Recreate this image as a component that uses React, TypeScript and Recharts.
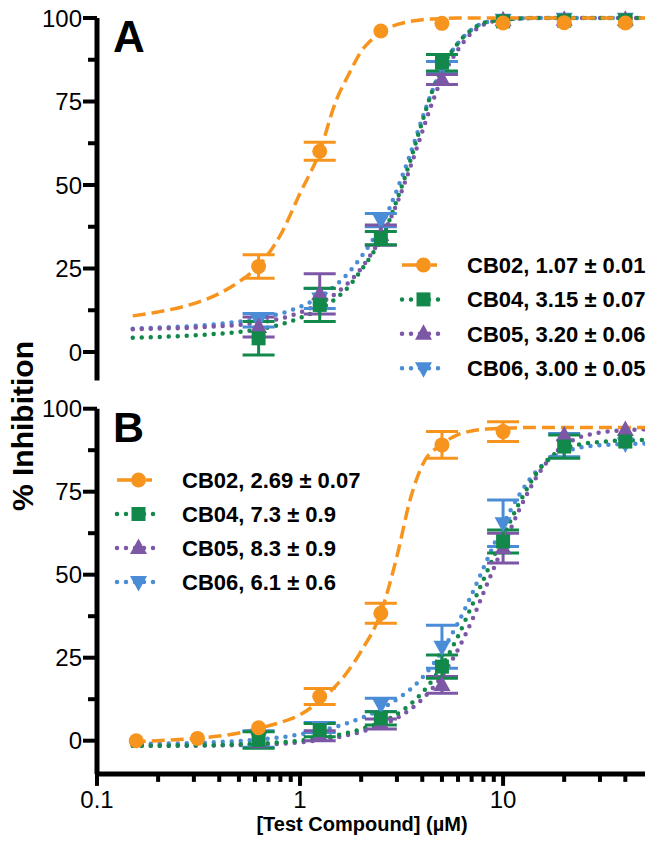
import React from 'react';
import { ComposedChart, Line, Scatter, XAxis, YAxis, ErrorBar } from 'recharts';

const ORANGE = '#F7941E';
const GREEN = '#12894A';
const PURPLE = '#7B57A6';
const BLUE = '#4A8DD6';
const FONT = '"Liberation Sans", Arial, Helvetica, sans-serif';

// ---------- Panel A data ----------
const concA = [0.625, 1.25, 2.5, 5, 10, 20, 40];
const cb02A = [25.6, 60.1, 96.1, 98.4, 98.5, 98.6, 98.5];
const cb02AErr = [3.5, 2.7, 0, 0, 0, 0, 0];
const cb04A = [4.1, 14.1, 34.1, 86.6, 99, 99.2, 99.3];
const cb04AErr = [5, 5, 2, 2.5, 0, 0, 0];
const cb05A = [7.5, 17.4, 35, 81.6, 99.3, 99.5, 99.5];
const cb05AErr = [3, 6, 3, 1.5, 0, 0, 0];
const cb06A = [9.5, 16, 39.5, 85.5, 99.5, 99.8, 99.8];
const cb06AErr = [2, 3, 2, 1.5, 0, 0, 0];

const fitXA = [0.15, 0.2, 0.3, 0.4, 0.5, 0.625, 0.8, 1, 1.25, 1.5, 1.75, 2, 2.25, 2.5, 3, 3.5, 4, 4.5, 5, 6, 7, 8, 10, 15, 20, 30, 50];
const fit02A = [10.8, 12, 14.5, 17.5, 21, 25.8, 35, 47.5, 60, 75, 83.5, 90, 93.5, 96, 98, 99, 99.5, 99.7, 99.8, 100, 100, 100, 100, 100, 100, 100, 100];
const fit04A = [4.3, 4.5, 5, 5.5, 6, 6.8, 8.2, 10.2, 12.8, 16, 19.8, 24.5, 29, 33.5, 45.5, 57.5, 69, 78.5, 85, 92.5, 96.5, 98.5, 99.5, 100, 100, 100, 100];
const fit05A = [6.8, 7, 7.3, 7.7, 8.1, 8.8, 10, 11.8, 14.5, 17.5, 21, 25, 29.5, 34, 44.5, 55.5, 66, 75, 82, 90.5, 95.5, 98, 99.5, 100, 100, 100, 100];
const fit06A = [7, 7.3, 7.8, 8.4, 9.1, 10, 11.5, 13.5, 16.5, 20, 24, 28.5, 33, 37.5, 48.5, 59.5, 70, 78.5, 85, 92.5, 96.5, 98.5, 99.5, 100, 100, 100, 100];

// ---------- Panel B data ----------
const concB02 = [0.156, 0.3125, 0.625, 1.25, 2.5, 5, 10];
const cb02B = [0, 0.7, 3.9, 13.3, 38.4, 89.1, 93.1];
const cb02BErr = [0, 0, 0, 2.4, 3, 4, 3];
const concB = [0.625, 1.25, 2.5, 5, 10, 20, 40];
const cb04B = [0.2, 3.2, 6.7, 22.3, 60, 88.6, 90.1];
const cb04BErr = [2.5, 2, 2, 3.5, 3.5, 3.5, 0];
const cb05B = [-0.5, 1.5, 5, 16.8, 58, 92, 93.6];
const cb05BErr = [0, 1.5, 1.5, 2.5, 4.5, 0, 0];
const cb06B = [0.5, 4, 10.8, 28.3, 65.5, 89, 89.5];
const cb06BErr = [2.5, 1.5, 2, 6.5, 7, 3.5, 0];

const fitXB = [0.15, 0.2, 0.3, 0.4, 0.5, 0.625, 0.8, 1, 1.25, 1.5, 1.75, 2, 2.5, 3, 3.5, 4, 5, 6, 7, 8, 10, 12, 15, 20, 30, 50];
const fit02B = [-0.3, 0, 0.7, 1.4, 2.3, 3.7, 5.5, 7.8, 12, 16.5, 21.5, 27, 38.5, 55.5, 73, 83, 89.3, 92.2, 93.3, 93.8, 94.1, 94.3, 94.3, 94.3, 94.3, 94.3];
const fit04B = [-1.5, -1.5, -1.4, -1.3, -1.1, -0.9, -0.5, 0, 0.8, 1.6, 2.5, 3.5, 5.5, 8, 11, 14.5, 22.5, 31.5, 40.5, 48.5, 61.5, 71.5, 81.5, 88, 90, 90.6];
const fit05B = [-1.5, -1.5, -1.5, -1.4, -1.3, -1.2, -0.9, -0.5, 0.2, 0.9, 1.8, 2.7, 4.5, 6.8, 9.5, 12.5, 19.5, 27.5, 36, 44.5, 58.5, 69.5, 80.5, 89, 92.8, 93.8];
const fit06B = [-1, -0.9, -0.7, -0.4, -0.1, 0.3, 1, 1.9, 3, 4.2, 5.5, 6.8, 9.5, 12.5, 15.5, 19, 27, 35.5, 44, 52, 65, 74, 82, 87, 89, 89.5];

// ---------- labels / ticks ----------
const legendA = ['CB02, 1.07 ± 0.01', 'CB04, 3.15 ± 0.07', 'CB05, 3.20 ± 0.06', 'CB06, 3.00 ± 0.05'];
const legendB = ['CB02, 2.69 ± 0.07', 'CB04, 7.3 ± 0.9', 'CB05, 8.3 ± 0.9', 'CB06, 6.1 ± 0.6'];
const yTicks = [0, 12.5, 25, 37.5, 50, 62.5, 75, 87.5, 100];
const yMajor = [0, 25, 50, 75, 100];
const xTicks = [0.1, 0.2, 0.3, 0.4, 0.5, 0.6, 0.7, 0.8, 0.9, 1, 2, 3, 4, 5, 6, 7, 8, 9, 10, 20, 30, 40];
const xMajor = [0.1, 1, 10];

const zip = (xs: number[], ys: number[], es?: number[]) =>
  xs.map((x, i) => ({ x, y: ys[i], err: es ? es[i] : 0 }));

type Kind = 'circle' | 'square' | 'up' | 'down';

function Marker({ kind, cx, cy, color }: { kind: Kind; cx: number; cy: number; color: string }) {
  if (cx == null || cy == null) return null;
  if (kind === 'circle') return <circle cx={cx} cy={cy} r={7.5} fill={color} />;
  if (kind === 'square') return <rect x={cx - 7} y={cy - 7} width={14} height={14} fill={color} />;
  if (kind === 'up')
    return <polygon points={`${cx},${cy - 9.5} ${cx + 8.5},${cy + 6} ${cx - 8.5},${cy + 6}`} fill={color} />;
  return <polygon points={`${cx},${cy + 9.5} ${cx + 8.5},${cy - 6} ${cx - 8.5},${cy - 6}`} fill={color} />;
}

const DASH = { strokeDasharray: '13 6', strokeWidth: 3.5, strokeLinecap: 'butt' as const };
const DOT = { strokeDasharray: '0 9', strokeWidth: 4.5, strokeLinecap: 'round' as const };

type Series = { color: string; kind: Kind; style: any; points: any[]; fit: any[] };

const seriesA: Series[] = [
  { color: BLUE, kind: 'down', style: DOT, points: zip(concA, cb06A, cb06AErr), fit: zip(fitXA, fit06A) },
  { color: PURPLE, kind: 'up', style: DOT, points: zip(concA, cb05A, cb05AErr), fit: zip(fitXA, fit05A) },
  { color: GREEN, kind: 'square', style: DOT, points: zip(concA, cb04A, cb04AErr), fit: zip(fitXA, fit04A) },
  { color: ORANGE, kind: 'circle', style: DASH, points: zip(concA, cb02A, cb02AErr), fit: zip(fitXA, fit02A) },
];
const seriesB: Series[] = [
  { color: BLUE, kind: 'down', style: DOT, points: zip(concB, cb06B, cb06BErr), fit: zip(fitXB, fit06B) },
  { color: PURPLE, kind: 'up', style: DOT, points: zip(concB, cb05B, cb05BErr), fit: zip(fitXB, fit05B) },
  { color: GREEN, kind: 'square', style: DOT, points: zip(concB, cb04B, cb04BErr), fit: zip(fitXB, fit04B) },
  { color: ORANGE, kind: 'circle', style: DASH, points: zip(concB02, cb02B, cb02BErr), fit: zip(fitXB, fit02B) },
];

const YTick = (props: any) => {
  const { x, y, payload } = props;
  const v = payload.value;
  const major = yMajor.includes(v);
  return (
    <g>
      <line x1={x - (major ? 14 : 9)} x2={x} y1={y} y2={y} stroke="#000" strokeWidth={4} />
      {major && (
        <text x={x - 15} y={y} dy="0.36em" textAnchor="end" fontSize={24} fontFamily={FONT} fill="#000">
          {v}
        </text>
      )}
    </g>
  );
};

const XTick = (props: any) => {
  const { x, y, payload } = props;
  const v = payload.value;
  const major = xMajor.includes(v);
  return (
    <g>
      <line x1={x} x2={x} y1={y} y2={y + (major ? 12 : 8)} stroke="#000" strokeWidth={4} />
      {major && (
        <text x={x} y={y + 34} textAnchor="middle" fontSize={24} fontFamily={FONT} fill="#000">
          {v}
        </text>
      )}
    </g>
  );
};

function renderSeries(series: Series[]) {
  const lines = series.map((s, i) => (
    <Line
      key={'l' + i}
      data={s.fit}
      dataKey="y"
      type="monotone"
      stroke={s.color}
      {...s.style}
      dot={false}
      activeDot={false}
      isAnimationActive={false}
    />
  ));
  const pts = series.map((s, i) => (
    <Scatter
      key={'s' + i}
      data={s.points}
      dataKey="y"
      fill={s.color}
      isAnimationActive={false}
      shape={(p: any) => <Marker kind={s.kind} cx={p.cx} cy={p.cy} color={s.color} />}
    >
      <ErrorBar dataKey="err" direction="y" width={16} strokeWidth={3} stroke={s.color} isAnimationActive={false} />
    </Scatter>
  ));
  return [...lines, ...pts];
}

function LegendRow({ x, y, color, kind, dotted, label, swatchW }: any) {
  return (
    <g>
      <line
        x1={x}
        x2={x + swatchW}
        y1={y}
        y2={y}
        stroke={color}
        strokeWidth={dotted ? 4.5 : 3.5}
        strokeDasharray={dotted ? '0 9' : '24 5 6'}
        strokeLinecap={dotted ? 'round' : 'butt'}
      />
      <Marker kind={kind} cx={x + swatchW / 2} cy={y} color={color} />
      <text x={x + 65} y={y + 8} fontSize={22} fontWeight="bold" fontFamily={FONT} fill="#000">
        {label}
      </text>
    </g>
  );
}

const kinds: Kind[] = ['circle', 'square', 'up', 'down'];
const colors = [ORANGE, GREEN, PURPLE, BLUE];

export default function App() {
  return (
    <div style={{ position: 'absolute', left: 0, top: 0, width: 657, height: 852, background: '#fff' }}>
      <div style={{ position: 'absolute', left: 0, top: 0 }}>
        <ComposedChart width={657} height={395} margin={{ top: 18, right: 12, bottom: 14.6, left: 0 }}>
          <XAxis hide dataKey="x" type="number" scale="log" domain={[0.1, 50]} allowDataOverflow />
          <YAxis
            dataKey="y"
            type="number"
            domain={[-8.5, 100]}
            ticks={yTicks}
            interval={0}
            width={97}
            tickSize={0}
            tickMargin={0}
            tickLine={false}
            axisLine={{ stroke: '#000', strokeWidth: 5 }}
            tick={<YTick />}
          />
          {renderSeries(seriesA)}
        </ComposedChart>
      </div>
      <div style={{ position: 'absolute', left: 0, top: 385 }}>
        <ComposedChart width={657} height={467} margin={{ top: 23.7, right: 12, bottom: 38.1, left: 0 }}>
          <XAxis
            dataKey="x"
            type="number"
            scale="log"
            domain={[0.1, 50]}
            allowDataOverflow
            ticks={xTicks}
            interval={0}
            height={40}
            tickSize={0}
            tickMargin={0}
            tickLine={false}
            axisLine={{ stroke: '#000', strokeWidth: 5 }}
            tick={<XTick />}
          />
          <YAxis
            dataKey="y"
            type="number"
            domain={[-10, 100]}
            ticks={yTicks}
            interval={0}
            width={97}
            tickSize={0}
            tickMargin={0}
            tickLine={false}
            axisLine={{ stroke: '#000', strokeWidth: 5 }}
            tick={<YTick />}
          />
          {renderSeries(seriesB)}
        </ComposedChart>
      </div>
      <svg
        width={657}
        height={852}
        style={{ position: 'absolute', left: 0, top: 0, pointerEvents: 'none' }}
      >
        <text x={113} y={52} fontSize={44} fontWeight="bold" fontFamily={FONT} fill="#000">A</text>
        <text x={113} y={442} fontSize={43} fontWeight="bold" fontFamily={FONT} fill="#000">B</text>
        <text
          x={33}
          y={426}
          transform="rotate(-90 33 426)"
          textAnchor="middle"
          fontSize={30}
          fontWeight="bold"
          fontFamily={FONT}
          fill="#000"
        >
          % Inhibition
        </text>
        <text x={362} y={831} textAnchor="middle" fontSize={20} fontWeight="bold" fontFamily={FONT} fill="#000">
          [Test Compound] (µM)
        </text>
        {legendA.map((l, i) => (
          <LegendRow
            key={'la' + i}
            x={402}
            y={265 + i * 34.4}
            color={colors[i]}
            kind={kinds[i]}
            dotted={i > 0}
            label={l}
            swatchW={43}
          />
        ))}
        {legendB.map((l, i) => (
          <LegendRow
            key={'lb' + i}
            x={117}
            y={480 + i * 34}
            color={colors[i]}
            kind={kinds[i]}
            dotted={i > 0}
            label={l}
            swatchW={43}
          />
        ))}
      </svg>
    </div>
  );
}
